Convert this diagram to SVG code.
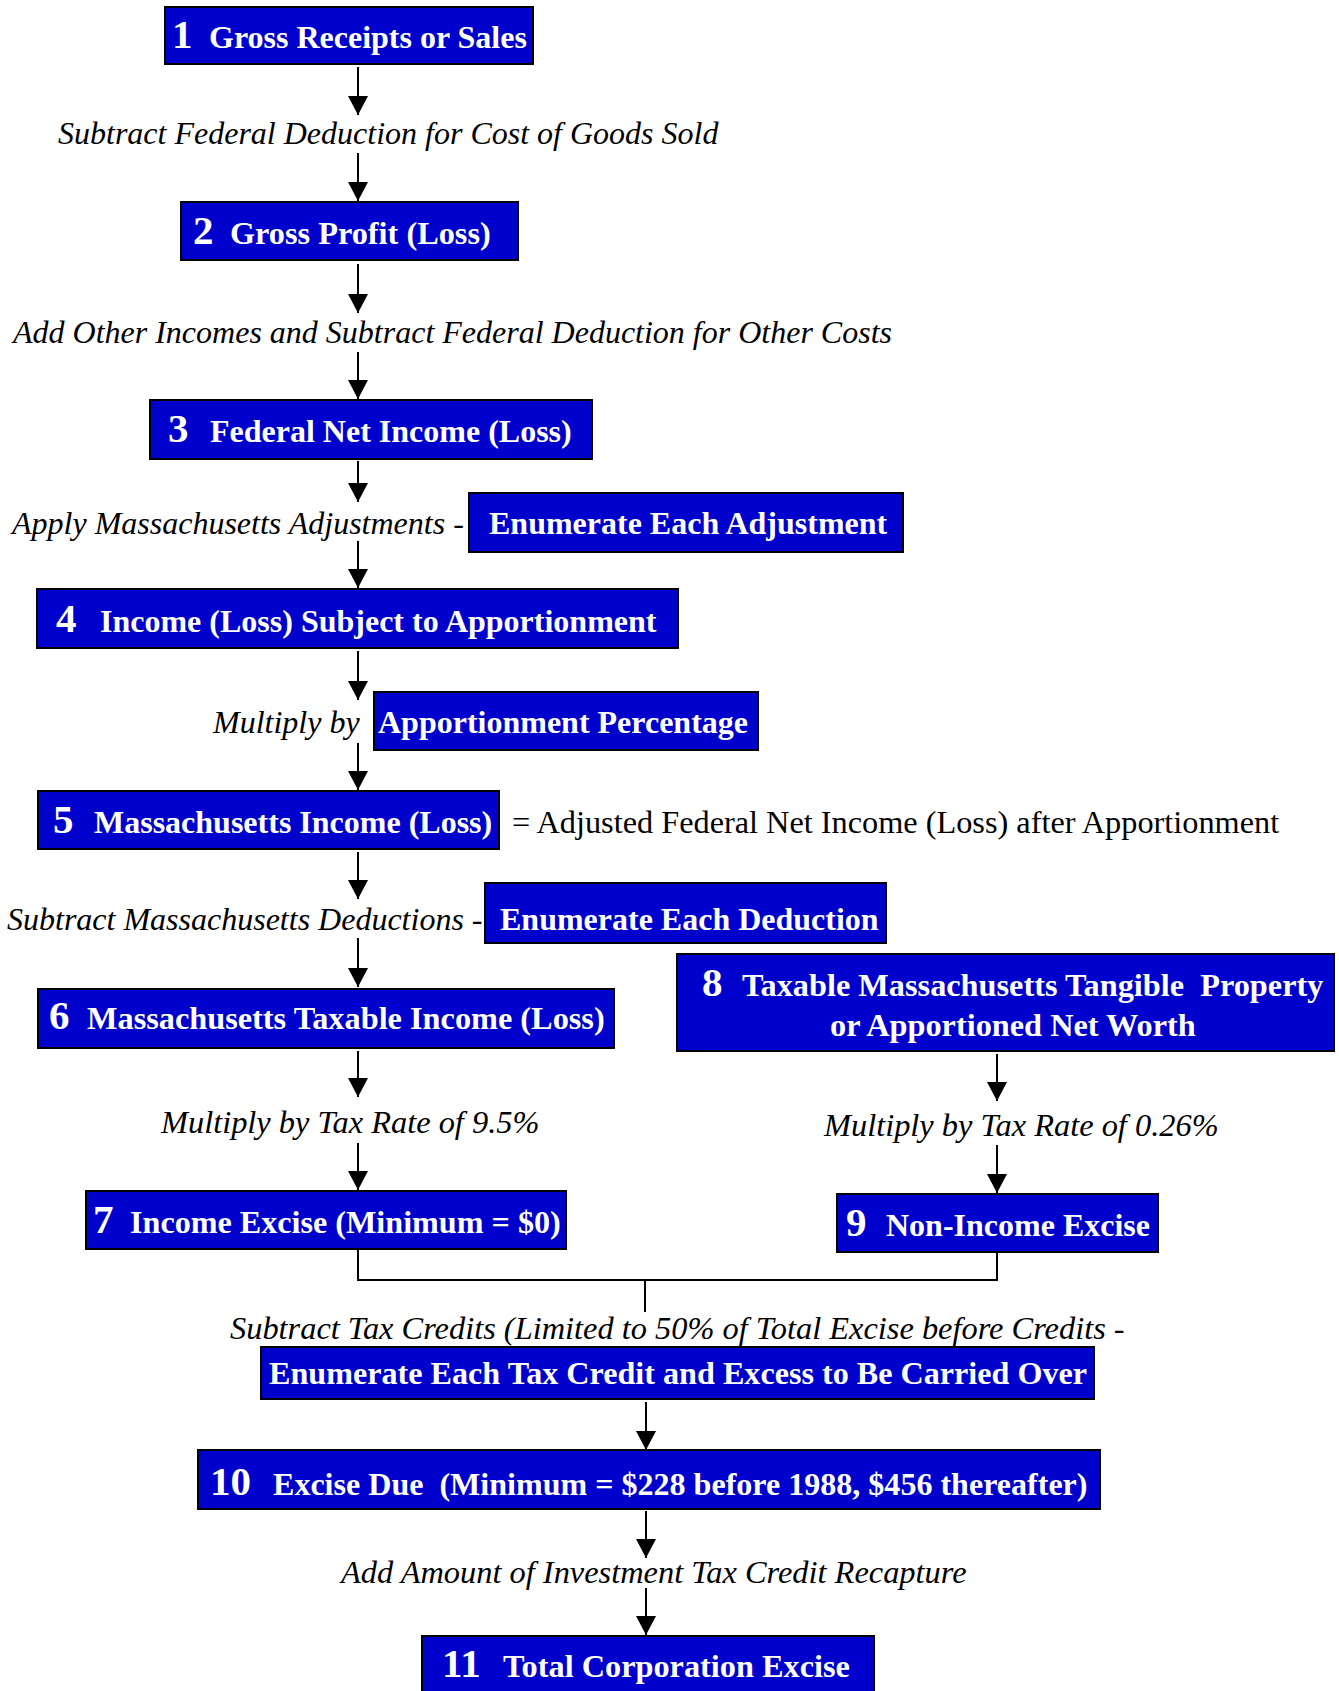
<svg xmlns="http://www.w3.org/2000/svg" width="1339" height="1691" viewBox="0 0 1339 1691">
<style>
.box{fill:#0000CC;stroke:#000;stroke-width:2}
.num{font-family:"Liberation Serif","Times New Roman",serif;font-weight:bold;font-size:41px;fill:#fff}
.lbl{font-family:"Liberation Serif","Times New Roman",serif;font-weight:bold;font-size:32px;fill:#fff}
.lbl2{font-size:32.3px}
.it{font-family:"Liberation Serif","Times New Roman",serif;font-style:italic;font-size:32px;fill:#000}
.it2{font-size:32.4px}
.rg{font-family:"Liberation Serif","Times New Roman",serif;font-size:32.3px;fill:#000}
.conn{stroke:#000;stroke-width:2;fill:none}
</style>
<defs>
<marker id="ah" markerUnits="userSpaceOnUse" markerWidth="20" markerHeight="20" refX="19" refY="10" orient="auto">
<path d="M0,0 L19,10 L0,20 z" fill="#000"/>
</marker>
</defs>
<rect width="1339" height="1691" fill="#fff"/>

<g id="connectors">
<line class="conn" x1="358" y1="67" x2="358" y2="115" marker-end="url(#ah)"/>
<line class="conn" x1="358" y1="153" x2="358" y2="201" marker-end="url(#ah)"/>
<line class="conn" x1="358" y1="264" x2="358" y2="313" marker-end="url(#ah)"/>
<line class="conn" x1="358" y1="352" x2="358" y2="399" marker-end="url(#ah)"/>
<line class="conn" x1="358" y1="461" x2="358" y2="502" marker-end="url(#ah)"/>
<line class="conn" x1="358" y1="541" x2="358" y2="588" marker-end="url(#ah)"/>
<line class="conn" x1="358" y1="651" x2="358" y2="700" marker-end="url(#ah)"/>
<line class="conn" x1="358" y1="743" x2="358" y2="790" marker-end="url(#ah)"/>
<line class="conn" x1="358" y1="852" x2="358" y2="899" marker-end="url(#ah)"/>
<line class="conn" x1="358" y1="938" x2="358" y2="987" marker-end="url(#ah)"/>
<line class="conn" x1="358" y1="1051" x2="358" y2="1097" marker-end="url(#ah)"/>
<line class="conn" x1="358" y1="1143" x2="358" y2="1190" marker-end="url(#ah)"/>
<line class="conn" x1="997" y1="1054" x2="997" y2="1101" marker-end="url(#ah)"/>
<line class="conn" x1="997" y1="1145" x2="997" y2="1193" marker-end="url(#ah)"/>
<polyline class="conn" points="358,1250 358,1280 997,1280 997,1253"/>
<line class="conn" x1="645" y1="1280" x2="645" y2="1312"/>
<line class="conn" x1="646" y1="1402" x2="646" y2="1450" marker-end="url(#ah)"/>
<line class="conn" x1="646" y1="1511" x2="646" y2="1558" marker-end="url(#ah)"/>
<line class="conn" x1="646" y1="1588" x2="646" y2="1635" marker-end="url(#ah)"/>
</g>

<g id="node1">
<rect class="box" x="165" y="7" width="368" height="57"/>
<text class="num" x="172" y="48">1</text>
<text class="lbl" x="209" y="48">Gross Receipts or Sales</text>
</g>
<text class="it" x="58" y="144">Subtract Federal Deduction for Cost of Goods Sold</text>

<g id="node2">
<rect class="box" x="181" y="202" width="337" height="58"/>
<text class="num" x="193" y="244">2</text>
<text class="lbl lbl2" x="230" y="244">Gross Profit (Loss)</text>
</g>
<text class="it" x="13" y="343">Add Other Incomes and Subtract Federal Deduction for Other Costs</text>

<g id="node3">
<rect class="box" x="150" y="400" width="442" height="59"/>
<text class="num" x="168" y="442">3</text>
<text class="lbl" x="210" y="442">Federal Net Income (Loss)</text>
</g>
<text class="it" x="12" y="534">Apply Massachusetts Adjustments -</text>
<g id="adjust">
<rect class="box" x="469" y="493" width="434" height="59"/>
<text class="lbl" x="489" y="534">Enumerate Each Adjustment</text>
</g>

<g id="node4">
<rect class="box" x="37" y="589" width="641" height="59"/>
<text class="num" x="56" y="632">4</text>
<text class="lbl" x="100" y="632">Income (Loss) Subject to Apportionment</text>
</g>
<text class="it" x="213" y="733">Multiply by</text>
<g id="apportion">
<rect class="box" x="374" y="692" width="384" height="58"/>
<text class="lbl" x="378" y="733">Apportionment Percentage</text>
</g>

<g id="node5">
<rect class="box" x="38" y="791" width="461" height="58"/>
<text class="num" x="53" y="833">5</text>
<text class="lbl" x="94" y="833">Massachusetts Income (Loss)</text>
</g>
<text class="rg" x="512" y="832.5">= Adjusted Federal Net Income (Loss) after Apportionment</text>
<text class="it" x="7" y="930">Subtract Massachusetts Deductions -</text>
<g id="deduct">
<rect class="box" x="485" y="883" width="401" height="60"/>
<text class="lbl" x="500" y="929.5">Enumerate Each Deduction</text>
</g>

<g id="node6">
<rect class="box" x="38" y="989" width="576" height="59"/>
<text class="num" x="49" y="1029">6</text>
<text class="lbl lbl2" x="87" y="1029">Massachusetts Taxable Income (Loss)</text>
</g>

<g id="node8">
<rect class="box" x="677" y="954" width="657" height="97"/>
<text class="num" x="702" y="996">8</text>
<text class="lbl lbl2" x="742" y="996">Taxable Massachusetts Tangible&#160; Property</text>
<text class="lbl lbl2" x="830" y="1036">or Apportioned Net Worth</text>
</g>

<text class="it it2" x="161" y="1133">Multiply by Tax Rate of 9.5%</text>
<text class="it it2" x="824" y="1136">Multiply by Tax Rate of 0.26%</text>

<g id="node7">
<rect class="box" x="86" y="1191" width="480" height="58"/>
<text class="num" x="93" y="1233">7</text>
<text class="lbl" x="130" y="1233" style="font-size:32.15px">Income Excise (Minimum = $0)</text>
</g>

<g id="node9">
<rect class="box" x="837" y="1194" width="321" height="58"/>
<text class="num" x="846" y="1236">9</text>
<text class="lbl" x="886" y="1236">Non-Income Excise</text>
</g>

<text class="it it2" x="230" y="1339">Subtract Tax Credits (Limited to 50% of Total Excise before Credits -</text>
<g id="credits">
<rect class="box" x="261" y="1347" width="833" height="52"/>
<text class="lbl" x="269" y="1384" style="font-size:32.15px">Enumerate Each Tax Credit and Excess to Be Carried Over</text>
</g>

<g id="node10">
<rect class="box" x="198" y="1450" width="902" height="59"/>
<text class="num" x="210" y="1495">10</text>
<text class="lbl" x="273" y="1495" style="font-size:32.05px">Excise Due&#160; (Minimum = $228 before 1988, $456 thereafter)</text>
</g>
<text class="it it2" x="341" y="1583">Add Amount of Investment Tax Credit Recapture</text>

<g id="node11">
<rect class="box" x="422" y="1636" width="452" height="70"/>
<text class="num" x="442" y="1677">11</text>
<text class="lbl lbl2" x="503" y="1677">Total Corporation Excise</text>
</g>
</svg>
